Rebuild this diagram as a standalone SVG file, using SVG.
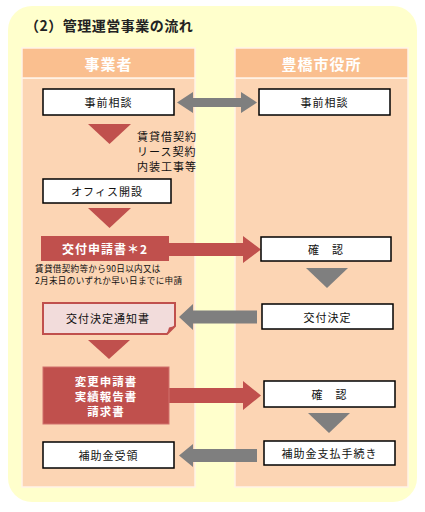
<svg xmlns="http://www.w3.org/2000/svg" width="425" height="512" viewBox="0 0 425 512">
<style>
text{font-family:"Noto Sans CJK JP","Noto Sans",sans-serif;}
.box{fill:#fff;stroke:#000;stroke-width:1.5;}
.bt{font-size:11px;fill:#111;text-anchor:middle;dominant-baseline:central;letter-spacing:1px;}
.wt{font-size:12px;fill:#fff;font-weight:bold;text-anchor:middle;dominant-baseline:central;letter-spacing:1px;}
.red{fill:#c0504d;}
.gray{fill:#7f7f7f;}
.col{fill:#fcd5b4;stroke:#fff3e8;stroke-width:1.5;}
.hdr{fill:#fabf8f;stroke:#fff3e8;stroke-width:1.5;}
.ht{font-size:15px;fill:#fff;font-weight:bold;text-anchor:middle;dominant-baseline:central;letter-spacing:1px;}
</style>
<rect x="8" y="6" width="409" height="496" rx="24" fill="#ffffcc"/>
<text x="25" y="25" font-size="14" font-weight="bold" fill="#222" dominant-baseline="central" letter-spacing="0.5">（2）管理運営事業の流れ</text>
<g id="col-left">
<rect class="col" x="22" y="78" width="173" height="409"/>
<rect class="hdr" x="22" y="48" width="173" height="30"/>
<text class="ht" x="108.5" y="63">事業者</text>
</g>
<g id="col-right">
<rect class="col" x="235" y="78" width="173" height="409"/>
<rect class="hdr" x="235" y="48" width="173" height="30"/>
<text class="ht" x="321.5" y="63">豊橋市役所</text>
</g>
<g id="connectors">
<polygon class="gray" points="177,102.5 193,92 193,98 241,98 241,92 257,102.5 241,113 241,107 193,107 193,113"/>
<polygon class="red" points="88,124 131,124 109.5,144"/>
<polygon class="red" points="88,208 131,208 109.5,228"/>
<polygon class="red" points="169,243 243,243 243,236 261,249.5 243,263 243,256 169,256"/>
<polygon class="gray" points="306,268 348,268 327,288"/>
<polygon class="gray" points="179,317 193,304 193,310.5 257,310.5 257,323.5 193,323.5 193,330"/>
<polygon class="red" points="88,340 130,340 109,359"/>
<polygon class="red" points="169,388 243,388 243,381 261,395.5 243,410 243,403 169,403"/>
<polygon class="gray" points="308,413 350,413 329,433"/>
<polygon class="gray" points="179,455.5 193,444 193,449 257,449 257,462 193,462 193,467"/>
</g>
<g id="n-jizen-l"><rect class="box" x="43" y="89" width="131" height="26"/><text class="bt" x="108.5" y="102">事前相談</text></g>
<g id="n-jizen-r"><rect class="box" x="259" y="89" width="131" height="26"/><text class="bt" x="324.5" y="102">事前相談</text></g>
<g id="n-keiyaku">
<text class="bt" x="137" y="136" style="text-anchor:start">賃貸借契約</text>
<text class="bt" x="137" y="151" style="text-anchor:start">リース契約</text>
<text class="bt" x="137" y="166" style="text-anchor:start">内装工事等</text>
</g>
<g id="n-office"><rect class="box" x="43" y="179" width="128" height="24"/><text class="bt" x="107" y="191">オフィス開設</text></g>
<g id="n-shinsei"><rect class="red" x="41" y="236" width="128" height="25"/><text class="wt" x="105" y="248.5">交付申請書＊2</text></g>
<g id="n-note">
<text x="35" y="267.5" font-size="8.6" fill="#111" dominant-baseline="central" letter-spacing="0.3">賃貸借契約等から90日以内又は</text>
<text x="35" y="279.5" font-size="8.6" fill="#111" dominant-baseline="central" letter-spacing="0.3">2月末日のいずれか早い日までに申請</text>
</g>
<g id="n-kakunin1"><rect class="box" x="261" y="237" width="130" height="24"/><text class="bt" x="326" y="249">確　認</text></g>
<g id="n-tsuchi">
<path d="M43,303 H175 V326 L167,334 H43 Z" fill="#f2dcdb" stroke="#c0504d" stroke-width="2"/>
<path d="M167,334 L169,327.5 L175,326 Z" fill="#c0504d"/>
<text class="bt" x="108" y="318">交付決定通知書</text>
</g>
<g id="n-kettei"><rect class="box" x="262" y="304" width="131" height="25"/><text class="bt" x="327.5" y="316.5">交付決定</text></g>
<g id="n-henko">
<rect class="red" x="43" y="367" width="126" height="57" stroke="#d0706d" stroke-width="1"/>
<text class="wt" x="106" y="380.5" style="font-size:11.5px">変更申請書</text>
<text class="wt" x="106" y="395.5" style="font-size:11.5px">実績報告書</text>
<text class="wt" x="106" y="410.5" style="font-size:11.5px">請求書</text>
</g>
<g id="n-kakunin2"><rect class="box" x="264" y="381" width="131" height="26"/><text class="bt" x="329.5" y="394">確　認</text></g>
<g id="n-shiharai"><rect class="box" x="264" y="441" width="131" height="24"/><text class="bt" x="329.5" y="453">補助金支払手続き</text></g>
<g id="n-juryo"><rect class="box" x="43" y="442" width="131" height="26"/><text class="bt" x="108.5" y="455">補助金受領</text></g>
</svg>
